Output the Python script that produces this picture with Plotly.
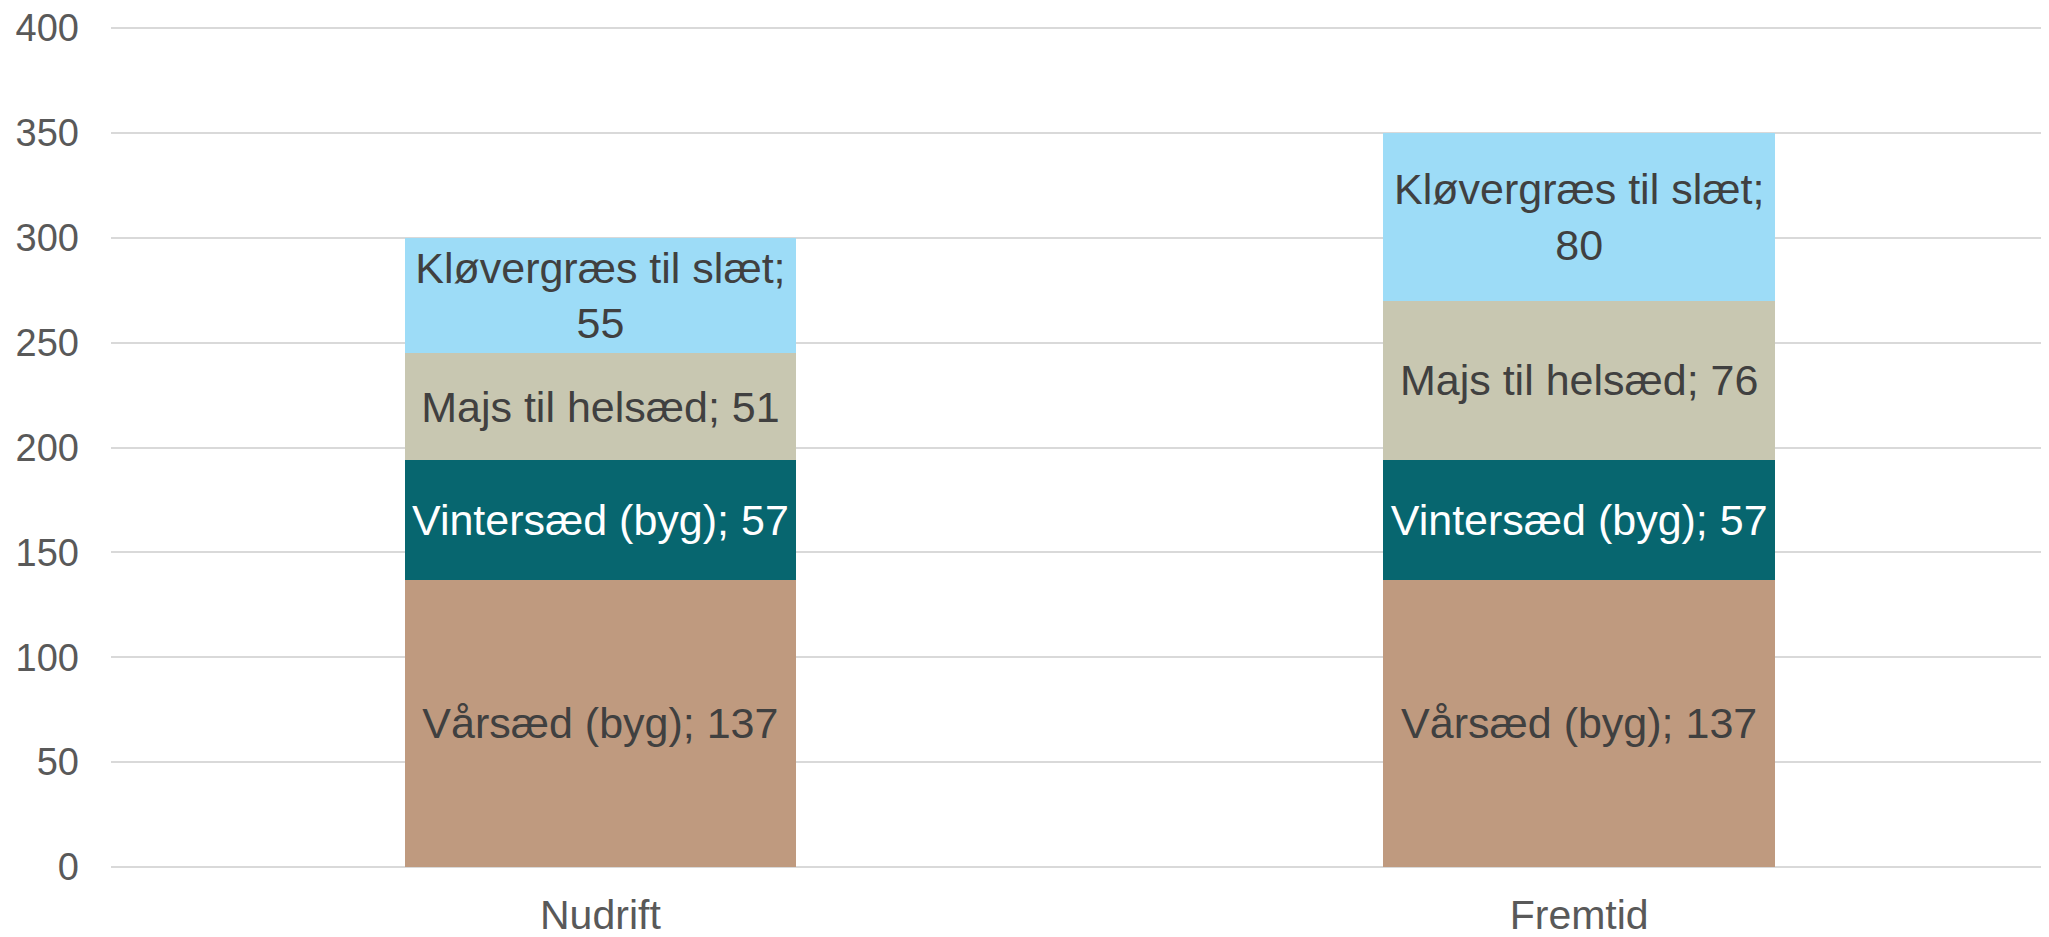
import plotly.graph_objects as go

categories = ["Nudrift", "Fremtid"]
series_names = ["Vårsæd (byg)", "Vintersæd (byg)", "Majs til helsæd", "Kløvergræs til slæt"]
vaarsaed = [137, 137]
vintersaed = [57, 57]
majs = [51, 76]
kloevergraes = [55, 80]
y_ticks = [0, 50, 100, 150, 200, 250, 300, 350, 400]

colors = ["#BF9A7F", "#07666F", "#C8C7B1", "#9DDCF7"]
text_colors = ["#404040", "#FFFFFF", "#404040", "#404040"]

fig = go.Figure()
for name, values, color, tcolor in zip(
    series_names, [vaarsaed, vintersaed, majs, kloevergraes], colors, text_colors
):
    sep = ";<br>" if name.startswith("Kløver") else "; "
    labels = [f"{name}{sep}{v}" for v in values]
    fig.add_trace(
        go.Bar(
            x=categories,
            y=values,
            name=name,
            width=0.4,
            marker=dict(color=color, line=dict(width=0)),
            text=labels,
            textposition="inside",
            insidetextanchor="middle",
            textangle=0,
            textfont=dict(family="Liberation Sans, Arial", size=43, color=tcolor),
            hovertemplate="%{x}<br>" + name + ": %{y}<extra></extra>",
        )
    )

# the page body has an 8px margin, so the figure is sized/offset to fill the window
fig.update_layout(
    barmode="stack",
    width=2041,
    height=929,
    margin=dict(l=103, r=0, t=17, b=70, autoexpand=False),
    paper_bgcolor="white",
    plot_bgcolor="white",
    showlegend=False,
    uniformtext=dict(minsize=43, mode="show"),
    font=dict(family="Liberation Sans, Arial", color="#595959"),
)
fig.update_xaxes(
    type="category",
    range=[-0.5, 1.48],
    automargin=False,
    showgrid=False,
    showline=False,
    ticks="",
    tickfont=dict(size=41, color="#595959"),
    ticklabelstandoff=20,
)
fig.update_yaxes(
    range=[0, 401.5],
    tickvals=y_ticks,
    automargin=False,
    ticklabeloverflow="allow",
    showgrid=True,
    gridcolor="#D9D9D9",
    gridwidth=2,
    zeroline=True,
    zerolinecolor="#D9D9D9",
    zerolinewidth=2,
    showline=False,
    ticks="",
    tickfont=dict(size=38, color="#595959"),
    ticklabelstandoff=31,
)

fig.write_html("out.html")
